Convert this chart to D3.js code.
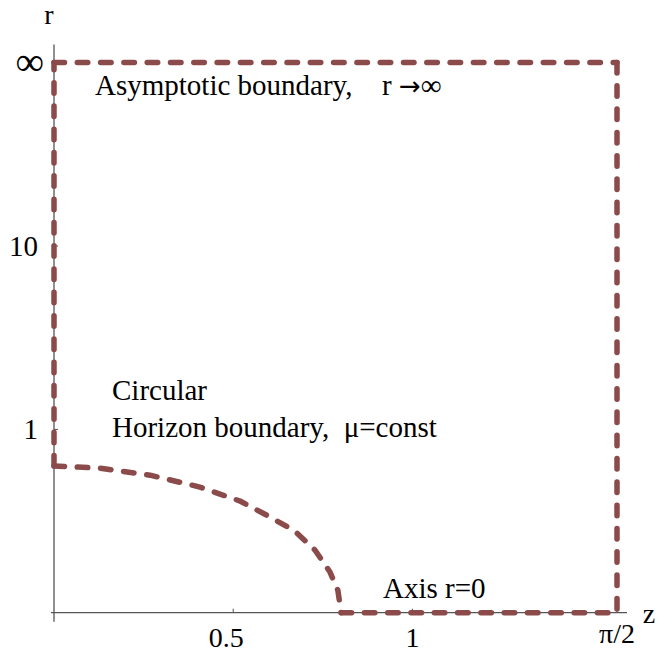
<!DOCTYPE html>
<html>
<head>
<meta charset="utf-8">
<script src="https://cdn.jsdelivr.net/npm/d3@7/dist/d3.min.js"></script>
<style>
  body { margin: 0; background: #fff; }
  text { font-family: "Liberation Serif", "Times New Roman", "DejaVu Serif", serif; fill: #000; }
</style>
</head>
<body>
<div id="graph"></div>
<script>
// tick values and labels
var zTicks = [0.5, 1, Math.PI / 2]
var zTickLabels = ['0.5', '1', 'π/2']
var rTicks = [1, 10, Infinity]
var rTickLabels = ['1', '10', '∞']

// circular horizon boundary (mu = const)
var horizonZ = [0, 0.128, 0.268, 0.407, 0.519, 0.603, 0.672, 0.728, 0.770, 0.792, 0.801]
var horizonR = [0.581, 0.561, 0.499, 0.405, 0.310, 0.220, 0.155, 0.088, 0.035, 0.010, 0]

var zMax = Math.PI / 2
var rMax = Infinity

var W = 660, H = 653
var lineColor = '#8b4b4b'

// compactified radial coordinate: 0 -> 0, infinity -> 1
function compact(r) {
  return (2 / Math.PI) * Math.atan(0.577 * Math.pow(r, 0.477))
}

var x = d3.scaleLinear().domain([0, zMax]).range([54, 617])
var u = d3.scaleLinear().domain([0, 1]).range([612.7, 62.5])
var y = function(r) { return u(compact(r)) }

var svg = d3.select('#graph')
  .append('svg')
  .attr('width', W)
  .attr('height', H)

// axes
svg.append('line')
  .attr('x1', x(0)).attr('x2', x(0))
  .attr('y1', u(1) - 18).attr('y2', u(0) + 9)
  .attr('stroke', '#555').attr('stroke-width', 1.3)
svg.append('line')
  .attr('x1', x(0) - 3).attr('x2', x(zMax) + 10)
  .attr('y1', u(0)).attr('y2', u(0))
  .attr('stroke', '#555').attr('stroke-width', 1.3)

// ticks
svg.selectAll('.ztick')
  .data(zTicks)
  .enter().append('line')
  .attr('class', 'ztick')
  .attr('x1', d => x(d)).attr('x2', d => x(d))
  .attr('y1', u(0)).attr('y2', u(0) - 4)
  .attr('stroke', '#555')
svg.selectAll('.rtick')
  .data(rTicks)
  .enter().append('line')
  .attr('class', 'rtick')
  .attr('x1', x(0)).attr('x2', x(0) + 4)
  .attr('y1', d => y(d)).attr('y2', d => y(d))
  .attr('stroke', '#555')

// tick labels
svg.selectAll('.zlabel')
  .data(zTicks)
  .enter().append('text')
  .attr('class', 'zlabel')
  .attr('x', d => x(d))
  .attr('dx', (d, i) => (i == 0 ? -7 : 0))
  .attr('y', (d, i) => (i == 2 ? 643 : 647))
  .attr('text-anchor', 'middle')
  .style('font-size', '28px')
  .text((d, i) => zTickLabels[i])

svg.selectAll('.rlabel')
  .data(rTicks)
  .enter().append('text')
  .attr('class', 'rlabel')
  .attr('x', (d, i) => (i == 2 ? 44 : 38))
  .attr('y', d => y(d))
  .attr('dy', (d, i) => (i == 2 ? '0.3em' : '0.33em'))
  .attr('text-anchor', 'end')
  .style('font-size', (d, i) => (i == 2 ? '40px' : '29px'))
  .text((d, i) => rTickLabels[i])

// axis names
svg.append('text').attr('x', 49).attr('y', 24).attr('text-anchor', 'middle')
  .style('font-size', '28px').text('r')
svg.append('text').attr('x', 649).attr('y', 623).attr('text-anchor', 'middle')
  .style('font-size', '28px').text('z')

// boundaries, each piece dashed from its own start
var line = d3.line().x(d => x(d[0])).y(d => y(d[1]))
var pieces = [
  d3.zip(horizonZ, horizonR),
  [[0, horizonR[0]], [0, rMax]],
  [[0, rMax], [zMax, rMax]],
  [[zMax, rMax], [zMax, 0]],
  [[horizonZ[horizonZ.length - 1], 0], [zMax, 0]],
]
svg.selectAll('.bnd')
  .data(pieces)
  .enter().append('path')
  .attr('class', 'bnd')
  .attr('d', line)
  .attr('fill', 'none')
  .attr('stroke', lineColor)
  .attr('stroke-width', 5.5)
  .attr('stroke-linecap', 'round')
  .attr('stroke-linejoin', 'round')
  .attr('stroke-dasharray', '10.5,12.8')

// annotations
svg.append('text').attr('x', 95).attr('y', 95).style('font-size', '29px')
  .text('Asymptotic boundary,')
var inf = svg.append('text').attr('x', 382).attr('y', 95).style('font-size', '29px')
inf.append('tspan').text('r ')
inf.append('tspan').style('font-family', '"DejaVu Sans"').style('font-size', '26px').text('→')
inf.append('tspan').text('∞')
svg.append('text').attr('x', 112).attr('y', 400).style('font-size', '29px')
  .text('Circular')
svg.append('text').attr('x', 112).attr('y', 437).style('font-size', '29px')
  .text('Horizon boundary,\u00a0 μ=const')
svg.append('text').attr('x', 383).attr('y', 598).style('font-size', '29px')
  .text('Axis r=0')
</script>
</body>
</html>
